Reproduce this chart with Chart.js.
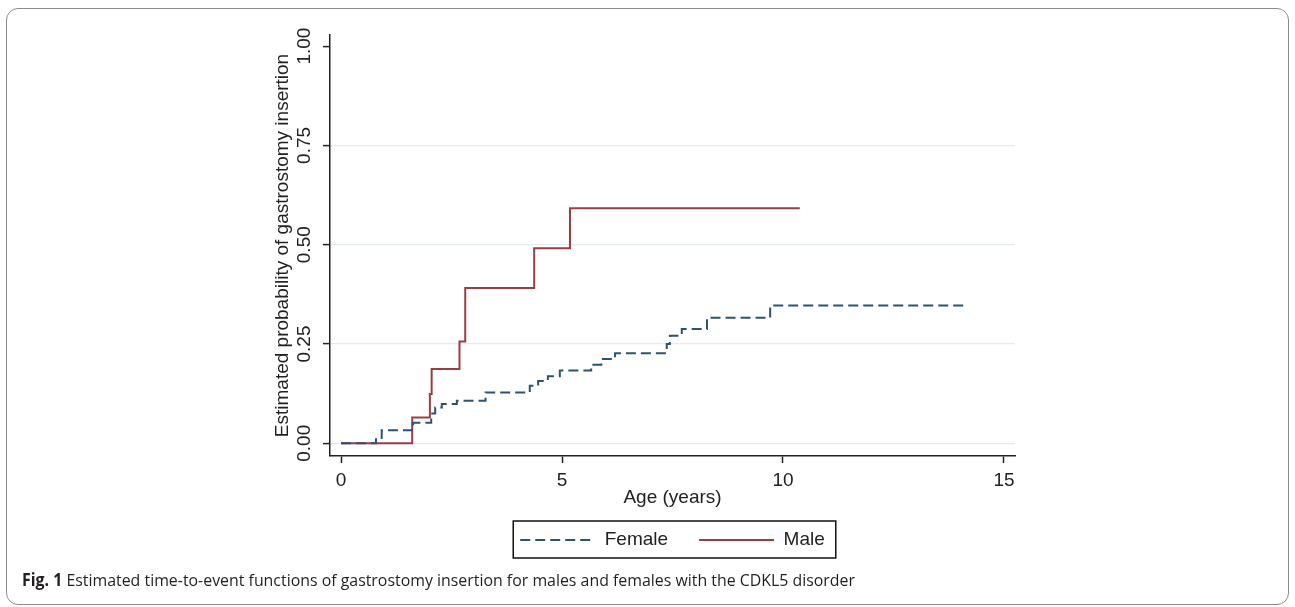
<!DOCTYPE html>
<html><head><meta charset="utf-8">
<script src="https://cdn.jsdelivr.net/npm/chart.js@4.4.1/dist/chart.umd.min.js"></script>
<style>
html,body{margin:0;padding:0;background:#fff;}
#wrap{position:relative;width:1295px;height:607px;overflow:hidden;background:#fff;}
#frame{position:absolute;left:6px;top:8px;width:1283px;height:597px;border:1.5px solid #8c8c8c;border-radius:12px;box-sizing:border-box;}
#c{position:absolute;left:0;top:0;}
#caption{position:absolute;left:22px;top:568px;font-family:"Open Sans",sans-serif;font-size:17px;line-height:24px;color:#231f20;white-space:nowrap;transform-origin:left center;}
#caption b{font-weight:700;}
</style></head><body>
<div id="wrap">
<div id="frame"></div>
<canvas id="c" width="1295" height="607"></canvas>
<div id="caption"><b>Fig. 1</b> Estimated time-to-event functions of gastrostomy insertion for males and females with the CDKL5 disorder</div>
</div>
<script>
// ---- data ----
const femaleAge  = [0, 0.79, 0.92, 1.63, 2.04, 2.13, 2.28, 2.62, 3.27, 4.27, 4.46, 4.68, 4.95, 5.66, 5.89, 6.20, 7.37, 7.44, 7.71, 8.28, 9.71, 14.19];
const femaleProb = [0, 0.010, 0.033, 0.052, 0.075, 0.090, 0.099, 0.107, 0.128, 0.145, 0.157, 0.169, 0.183, 0.198, 0.212, 0.227, 0.250, 0.271, 0.288, 0.316, 0.347, 0.347];
const maleAge    = [0, 1.61, 2.01, 2.05, 2.68, 2.81, 4.37, 5.18, 10.38];
const maleProb   = [0, 0.065, 0.124, 0.187, 0.256, 0.391, 0.491, 0.592, 0.592];
const seriesNames = ['Female', 'Male'];
const xTicks = [0, 5, 10, 15];
const xTickLabels = ['0', '5', '10', '15'];
const yTicks = [0, 0.25, 0.5, 0.75, 1];
const yTickLabels = ['0.00', '0.25', '0.50', '0.75', '1.00'];
const xTitle = 'Age (years)';
const yTitle = 'Estimated probability of gastrostomy insertion';

const FONT = {family: '"Liberation Sans", Arial, sans-serif', size: 19};
const TXT = '#222222';

const toPts = (xs, ys) => xs.map((x, i) => ({x: x, y: ys[i]}));

const legendFrame = {
  id: 'legendFrame',
  afterDraw(chart) {
    const hb = chart.legend && chart.legend.legendHitBoxes;
    if (!hb || !hb.length) return;
    const first = hb[0], last = hb[hb.length - 1];
    const cy = first.top + first.height / 2;
    const left = first.left - 7, right = last.left + last.width + 11;
    const ctx = chart.ctx;
    ctx.save();
    ctx.strokeStyle = '#111';
    ctx.lineWidth = 1.5;
    ctx.setLineDash([]);
    ctx.strokeRect(left, cy - 19, right - left, 37);
    ctx.restore();
  }
};

new Chart(document.getElementById('c'), {
  type: 'line',
  data: {
    datasets: [
      {label: seriesNames[0], data: toPts(femaleAge, femaleProb), stepped: true,
       borderColor: '#2c5275', backgroundColor: 'rgba(0,0,0,0)', borderWidth: 2, borderDash: [10, 5], pointRadius: 0, fill: false},
      {label: seriesNames[1], data: toPts(maleAge, maleProb), stepped: true,
       borderColor: '#9a3e44', backgroundColor: 'rgba(0,0,0,0)', borderWidth: 2, pointRadius: 0, fill: false}
    ]
  },
  options: {
    responsive: false,
    animation: false,
    layout: {padding: {left: 262, top: 35, right: 280, bottom: 47.5}},
    scales: {
      x: {
        type: 'linear', min: -0.25, max: 15.25,
        afterBuildTicks: s => { s.ticks = xTicks.map(v => ({value: v})); },
        afterFit: s => { s.height = 43.5; },
        ticks: {callback: v => xTickLabels[xTicks.indexOf(v)], maxRotation: 0, padding: 6, font: FONT, color: TXT},
        grid: {drawOnChartArea: false, tickColor: '#222', tickLength: 7, tickWidth: 1.5},
        border: {color: '#222', width: 1.5},
        title: {display: true, text: xTitle, font: FONT, color: TXT, padding: {top: 0, bottom: -10}}
      },
      y: {
        type: 'linear', min: -0.032, max: 1.028,
        afterBuildTicks: s => { s.ticks = yTicks.map(v => ({value: v})); },
        afterFit: s => { s.width = 68; },
        ticks: {callback: v => yTickLabels[yTicks.indexOf(v)], minRotation: 90, maxRotation: 90,
                crossAlign: 'center', padding: 0, font: FONT, color: TXT},
        grid: {color: c => (c.tick && c.tick.value === 1) ? 'rgba(0,0,0,0)' : '#e3ebed',
               lineWidth: 1.2, tickColor: '#222', tickLength: 7, tickWidth: 1.5},
        border: {color: '#222', width: 1.5},
        title: {display: true, text: yTitle, font: FONT, color: TXT, padding: {top: 9, bottom: 0}}
      }
    },
    plugins: {
      legend: {
        position: 'bottom', fullSize: false,
        labels: {
          usePointStyle: true, pointStyle: 'line', pointStyleWidth: 75, padding: 31, font: FONT, color: TXT,
          generateLabels: chart => {
            const items = Chart.defaults.plugins.legend.labels.generateLabels(chart);
            items.forEach(it => {
              const ds = chart.data.datasets[it.datasetIndex];
              it.lineDash = ds.borderDash || [];
              it.lineWidth = ds.borderWidth;
              it.strokeStyle = ds.borderColor;
              it.pointStyle = 'line';
            });
            return items;
          }
        }
      },
      tooltip: {enabled: false},
      title: {display: false}
    }
  },
  plugins: [legendFrame]
});

function fitCaption() {
  const cap = document.getElementById('caption');
  cap.style.transform = 'none';
  const w = cap.getBoundingClientRect().width;
  if (w > 0) cap.style.transform = 'scaleX(' + (833 / w) + ')';
}
fitCaption();
if (document.fonts && document.fonts.ready) document.fonts.ready.then(fitCaption);
</script>
</body></html>
